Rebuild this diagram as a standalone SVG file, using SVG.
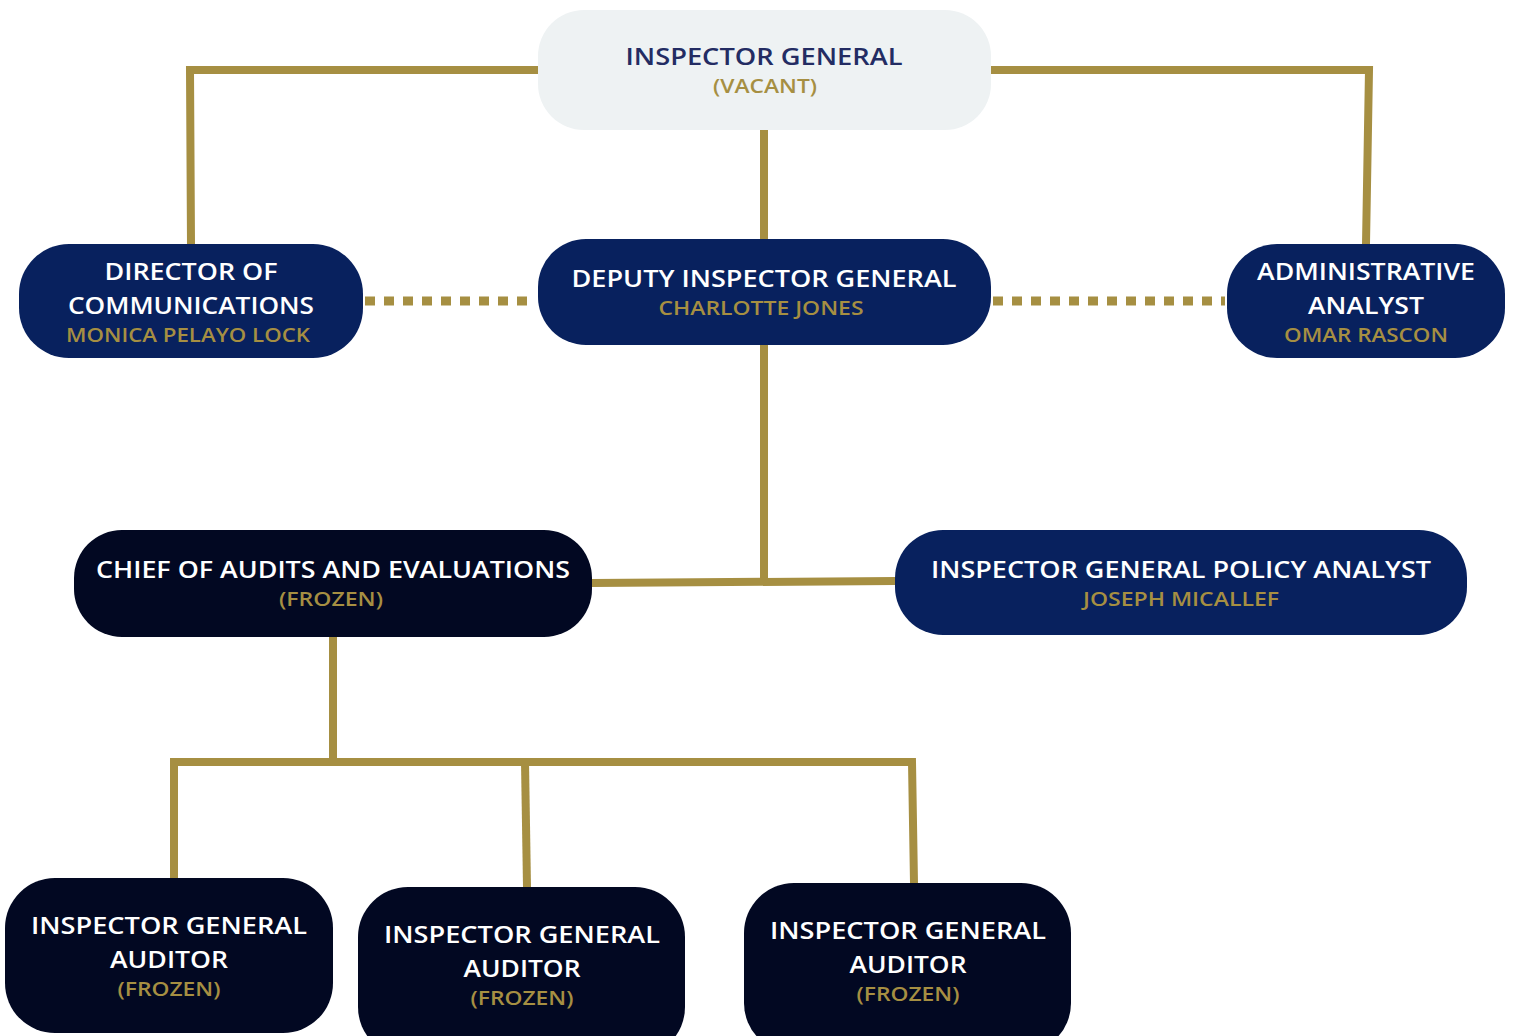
<svg xmlns="http://www.w3.org/2000/svg" width="1514" height="1036" viewBox="0 0 1514 1036">
<style>
.ln{fill:none;stroke:#a68f42;stroke-width:8;stroke-linejoin:miter;stroke-linecap:butt}
.dot{fill:none;stroke:#a68f42;stroke-width:9;stroke-dasharray:10 9}
.navy{fill:#08215e}
.dark{fill:#020822}
.t{font-family:"Open Sans","Liberation Sans",sans-serif;font-size:23px;font-weight:600;fill:#ffffff;text-anchor:middle}
.s{font-family:"Open Sans","Liberation Sans",sans-serif;font-size:19px;font-weight:600;fill:#a68f42;text-anchor:middle}
</style>
<rect width="1514" height="1036" fill="#ffffff"/>
<g id="connectors">
<polyline class="ln" points="538,70 190,70 191,244"/>
<polyline class="ln" points="991,70 1369,70 1366,244"/>
<line class="ln" x1="764" y1="130" x2="764" y2="239"/>
<line class="dot" x1="365" y1="301" x2="536" y2="301"/>
<line class="dot" x1="993" y1="301" x2="1225" y2="301"/>
<line class="ln" x1="764" y1="345" x2="764" y2="582"/>
<line class="ln" x1="592" y1="583" x2="895" y2="581"/>
<line class="ln" x1="333" y1="637" x2="333" y2="762"/>
<polyline class="ln" points="174,878 174,762 912,762 914,883"/>
<line class="ln" x1="525" y1="762" x2="527" y2="887"/>
</g>
<g id="inspector-general">
<rect x="538" y="10" width="453" height="120" rx="46" fill="#eef2f3"/>
<text class="t" x="764" y="65" style="fill:#232c63" textLength="277" lengthAdjust="spacingAndGlyphs">INSPECTOR GENERAL</text>
<text class="s" x="765" y="93" textLength="104" lengthAdjust="spacingAndGlyphs">(VACANT)</text>
</g>
<g id="director-communications">
<rect class="navy" x="19" y="244" width="344" height="114" rx="50"/>
<text class="t" x="191" y="280" textLength="173" lengthAdjust="spacingAndGlyphs">DIRECTOR OF</text>
<text class="t" x="191" y="314" textLength="246" lengthAdjust="spacingAndGlyphs">COMMUNICATIONS</text>
<text class="s" x="188" y="342" textLength="244" lengthAdjust="spacingAndGlyphs">MONICA PELAYO LOCK</text>
</g>
<g id="deputy-inspector-general">
<rect class="navy" x="538" y="239" width="453" height="106" rx="48"/>
<text class="t" x="764" y="287" textLength="385" lengthAdjust="spacingAndGlyphs">DEPUTY INSPECTOR GENERAL</text>
<text class="s" x="761" y="315" textLength="205" lengthAdjust="spacingAndGlyphs">CHARLOTTE JONES</text>
</g>
<g id="administrative-analyst">
<rect class="navy" x="1227" y="244" width="278" height="114" rx="50"/>
<text class="t" x="1366" y="280" textLength="218" lengthAdjust="spacingAndGlyphs">ADMINISTRATIVE</text>
<text class="t" x="1366" y="314" textLength="116" lengthAdjust="spacingAndGlyphs">ANALYST</text>
<text class="s" x="1366" y="342" textLength="164" lengthAdjust="spacingAndGlyphs">OMAR RASCON</text>
</g>
<g id="chief-audits">
<rect class="dark" x="74" y="530" width="518" height="107" rx="48"/>
<text class="t" x="333" y="578" textLength="474" lengthAdjust="spacingAndGlyphs">CHIEF OF AUDITS AND EVALUATIONS</text>
<text class="s" x="331" y="606" textLength="104" lengthAdjust="spacingAndGlyphs">(FROZEN)</text>
</g>
<g id="policy-analyst">
<rect class="navy" x="895" y="530" width="572" height="105" rx="48"/>
<text class="t" x="1181" y="578" textLength="500" lengthAdjust="spacingAndGlyphs">INSPECTOR GENERAL POLICY ANALYST</text>
<text class="s" x="1181" y="606" textLength="196" lengthAdjust="spacingAndGlyphs">JOSEPH MICALLEF</text>
</g>
<g id="auditor-1">
<rect class="dark" x="5" y="878" width="328" height="155" rx="50"/>
<text class="t" x="169" y="934" textLength="276" lengthAdjust="spacingAndGlyphs">INSPECTOR GENERAL</text>
<text class="t" x="169" y="968" textLength="118" lengthAdjust="spacingAndGlyphs">AUDITOR</text>
<text class="s" x="169" y="996" textLength="103" lengthAdjust="spacingAndGlyphs">(FROZEN)</text>
</g>
<g id="auditor-2">
<rect class="dark" x="358" y="887" width="327" height="170" rx="50"/>
<text class="t" x="522" y="943" textLength="276" lengthAdjust="spacingAndGlyphs">INSPECTOR GENERAL</text>
<text class="t" x="522" y="977" textLength="117" lengthAdjust="spacingAndGlyphs">AUDITOR</text>
<text class="s" x="522" y="1005" textLength="103" lengthAdjust="spacingAndGlyphs">(FROZEN)</text>
</g>
<g id="auditor-3">
<rect class="dark" x="744" y="883" width="327" height="170" rx="50"/>
<text class="t" x="908" y="939" textLength="276" lengthAdjust="spacingAndGlyphs">INSPECTOR GENERAL</text>
<text class="t" x="908" y="973" textLength="117" lengthAdjust="spacingAndGlyphs">AUDITOR</text>
<text class="s" x="908" y="1001" textLength="103" lengthAdjust="spacingAndGlyphs">(FROZEN)</text>
</g>
</svg>
